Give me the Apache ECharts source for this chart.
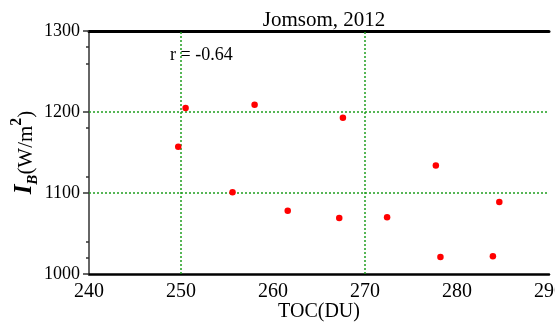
<!DOCTYPE html>
<html>
<head>
<meta charset="utf-8">
<script src="https://cdn.jsdelivr.net/npm/echarts@6/dist/echarts.min.js"></script>
<style>
  html, body { margin: 0; padding: 0; background: #fff; }
  #chart { width: 555px; height: 324px; }
</style>
</head>
<body>
<div id="chart"></div>
<script>
// TOC (DU) vs I_B (W/m2), Jomsom 2012
var tocValues = [249.7, 250.5, 255.6, 258.0, 261.6, 267.2, 267.6, 272.4, 277.7, 278.2, 283.9, 284.6];
var ibValues = [1157, 1205, 1101, 1209, 1078, 1069, 1193, 1070, 1134, 1021, 1022, 1089];
var xGridValues = [250, 270];
var yGridValues = [1100, 1200];
var yMinorTicks = [1020, 1040, 1120, 1180, 1260, 1280];
var titleText = "Jomsom, 2012";
var corrText = "r = -0.64";

var serif = "'Liberation Serif', 'DejaVu Serif', serif";
var gridGreen = { color: "#1f9f1f", width: 1.5, type: [2, 2], opacity: 1 };

var points = tocValues.map(function (x, i) { return [x, ibValues[i]]; });

var gridLines = xGridValues.map(function (v) { return { xAxis: v, lineStyle: gridGreen }; })
  .concat(yGridValues.map(function (v) { return { yAxis: v, lineStyle: gridGreen }; }));

var chart = echarts.init(document.getElementById("chart"));
chart.setOption({
  backgroundColor: "#fff",
  animation: false,
  title: {
    text: titleText,
    left: 319,
    textAlign: "center",
    top: 5,
    textStyle: { fontFamily: serif, fontSize: 21, fontWeight: "normal", color: "#000" }
  },
  grid: { left: 89, right: 6, top: 31, bottom: 50, containLabel: false, outerBoundsMode: "none" },
  xAxis: [
    {
      type: "value",
      position: "bottom",
      min: 240,
      max: 290,
      interval: 10,
      name: "TOC(DU)",
      nameLocation: "middle",
      nameGap: 28,
      nameMoveOverlap: false,
      nameTextStyle: { fontFamily: serif, fontSize: 20, color: "#000" },
      axisLine: { lineStyle: { color: "#000", width: 2.5 } },
      axisTick: { show: false },
      axisLabel: { fontFamily: serif, fontSize: 20, color: "#000", margin: 8 },
      splitLine: { show: false }
    },
    {
      type: "value",
      position: "top",
      min: 240,
      max: 290,
      interval: 10,
      axisLine: { lineStyle: { color: "#000", width: 3 } },
      axisTick: { show: false },
      axisLabel: { show: false },
      splitLine: { show: false }
    }
  ],
  yAxis: [
    {
      type: "value",
      position: "left",
      min: 1000,
      max: 1300,
      interval: 100,
      name: "{i|I}{b|B}{n|(W/m}{s|2}{n|)}",
      nameLocation: "middle",
      nameRotate: 90,
      nameGap: 52,
      nameMoveOverlap: false,
      nameTextStyle: {
        fontFamily: serif,
        color: "#000",
        rich: {
          i: { fontFamily: serif, fontSize: 25, fontWeight: "bold", fontStyle: "italic", lineHeight: 28, verticalAlign: "bottom" },
          b: { fontFamily: serif, fontSize: 15, fontWeight: "bold", fontStyle: "italic", lineHeight: 28, verticalAlign: "bottom", padding: [0, 0, -4, 0] },
          n: { fontFamily: serif, fontSize: 21, lineHeight: 28, verticalAlign: "bottom" },
          s: { fontFamily: serif, fontSize: 16, fontWeight: "bold", lineHeight: 28, verticalAlign: "top", padding: [0, 0, 0, 0] }
        }
      },
      axisLine: { lineStyle: { color: "#333", width: 1.5 } },
      axisTick: { show: true, length: 6, lineStyle: { color: "#333", width: 1.5 } },
      axisLabel: { fontFamily: serif, fontSize: 18, color: "#000", margin: 9, formatter: function (v) { return String(v); } },
      splitLine: { show: false }
    },
    {
      type: "value",
      position: "left",
      min: 1000,
      max: 1300,
      axisLine: { show: false },
      axisTick: { show: true, length: 3, customValues: yMinorTicks, lineStyle: { color: "#333", width: 1.5 } },
      axisLabel: { show: false },
      splitLine: { show: false }
    }
  ],
  graphic: [
    {
      type: "text",
      left: 170,
      top: 46,
      style: { text: corrText, fontFamily: serif, fontSize: 18, fill: "#000" }
    }
  ],
  series: [
    {
      type: "scatter",
      xAxisIndex: 0,
      yAxisIndex: 0,
      data: points,
      symbol: "circle",
      symbolSize: 6.5,
      itemStyle: { color: "#ff0000", opacity: 1 },
      z: 5,
      markLine: {
        silent: true,
        symbol: "none",
        label: { show: false },
        lineStyle: gridGreen,
        emphasis: { disabled: true },
        data: gridLines,
        z: 1
      }
    }
  ]
});
</script>
</body>
</html>
